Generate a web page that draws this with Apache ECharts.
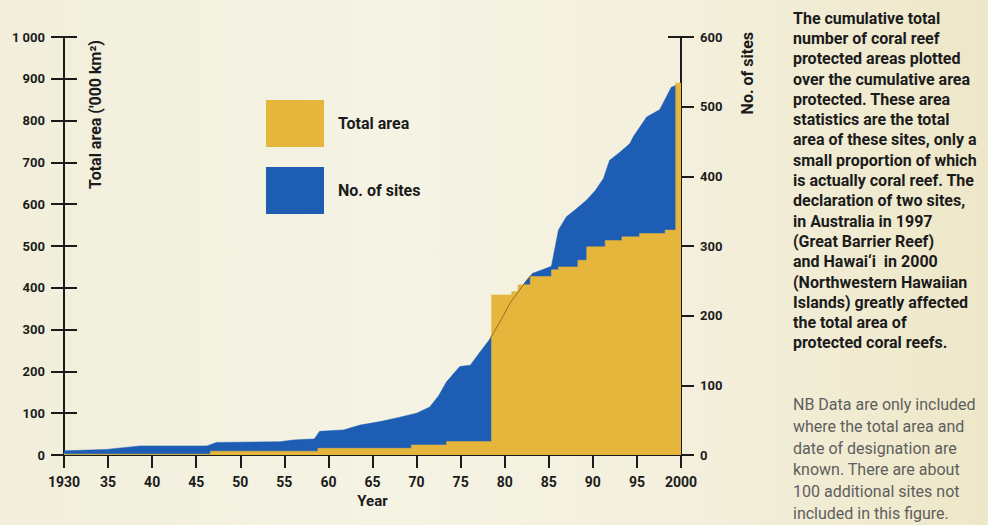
<!DOCTYPE html>
<html>
<head>
<meta charset="utf-8">
<script src="https://cdn.jsdelivr.net/npm/echarts@6/dist/echarts.min.js"></script>
<style>
html,body{margin:0;padding:0;}
body{background:linear-gradient(90deg,#f1eedb 0%,#f5f3e4 40%,#f3efdc 70%,#eee7c8 100%);}
#chart{width:988px;height:525px;}
</style>
</head>
<body>
<div id="chart"></div>
<script>
// ---- data ----
const areaYears  = [1930, 1946.6, 1958.8, 1969.4, 1973.4, 1978.5, 1980.8, 1981.5, 1982.9, 1985.3, 1986.1, 1988.3, 1989.3, 1991.4, 1993.3, 1995.3, 1998.2, 1999.4, 2000];
const areaValues = [2, 9, 16, 24, 32, 383, 391, 407, 427, 443, 450, 466, 498, 513, 522, 530, 538, 890, 890];

const siteYears  = [1930, 1934.8, 1938.6, 1946.2, 1947.3, 1954.5, 1956, 1957.5, 1958.4, 1959, 1961.7, 1963.6, 1965.9, 1968, 1970, 1971.5, 1972.5, 1973.4, 1974.9, 1976.1, 1977.2, 1978.3, 1979.5, 1980.6, 1981.7, 1982.5, 1983.2, 1984.5, 1985.3, 1986.1, 1987, 1988, 1989.3, 1990.3, 1991.2, 1991.9, 1993, 1994.2, 1994.6, 1996.1, 1997.2, 1997.6, 1998.9, 1999.9, 2000];
const siteValues = [6, 8, 13, 13, 18, 19, 21.5, 22.5, 23, 34, 36, 43, 48, 54, 60, 69, 85, 105, 127, 129, 148, 166, 192, 218, 237, 251, 261, 267, 271, 323, 342, 352, 366, 380, 397, 423, 434, 447, 457, 485, 493, 496, 528, 533, 534];

const xTickLabels = ['1930','35','40','45','50','55','60','65','70','75','80','85','90','95','2000'];
const areaTickLabels = ['0','100','200','300','400','500','600','700','800','900','1 000'];
const siteTickLabels = ['0','100','200','300','400','500','600'];

const seriesNames = ['Total area', 'No. of sites'];
const axisNames = ["Total area ('000 km²)", 'No. of sites', 'Year'];

const noteBold = ['The cumulative total','number of coral reef','protected areas plotted','over the cumulative area','protected. These area','statistics are the total','area of these sites, only a','small proportion of which','is actually coral reef. The','declaration of two sites,','in Australia in 1997','(Great Barrier Reef)','and Hawai\u2018i  in 2000','(Northwestern Hawaiian','Islands) greatly affected','the total area of','protected coral reefs.'];
const noteNB = ['NB Data are only included','where the total area and','date of designation are','known. There are about','100 additional sites not','included in this figure.'];

// ---- chart ----
const YELLOW = '#e5b63b';
const BLUE = '#1d5db4';
const INK = '#1b1b1b';
const FONT = 'Roboto, "DejaVu Sans", sans-serif';

const areaData = areaYears.map((y, i) => [y, areaValues[i]]);
const siteData = siteYears.map((y, i) => [y, siteValues[i]]);
const siteOutline = siteData.filter(d => d[0] >= 1978 && d[0] <= 1984);

const chart = echarts.init(document.getElementById('chart'), null, {renderer: 'svg'});

const axisLineStyle = {lineStyle: {color: INK, width: 2}};
const tickStyle = {lineStyle: {color: INK, width: 2}};
const labelStyle = {color: INK, fontFamily: FONT, fontWeight: 'bold', fontSize: 13};

chart.setOption({
  backgroundColor: 'transparent',
  animation: false,
  grid: {left: 64, right: 307, top: 37, bottom: 70},
  legend: {
    data: seriesNames,
    orient: 'vertical',
    left: 261, top: 95,
    itemWidth: 58, itemHeight: 47, itemGap: 20,
    icon: 'rect',
    selectedMode: false,
    textStyle: {color: INK, fontFamily: FONT, fontWeight: 'bold', fontSize: 16, padding: [0, 0, 0, 9]}
  },
  xAxis: {
    type: 'value', min: 1930, max: 2000, interval: 5,
    name: axisNames[2], nameLocation: 'middle', nameGap: 36,
    nameTextStyle: {color: INK, fontFamily: FONT, fontWeight: 'bold', fontSize: 15},
    axisLine: axisLineStyle,
    axisTick: Object.assign({length: 13}, tickStyle),
    axisLabel: Object.assign({}, labelStyle, {fontSize: 14, margin: 20,
      formatter: v => xTickLabels[Math.round((v - 1930) / 5)]}),
    splitLine: {show: false}
  },
  yAxis: [
    {
      type: 'value', min: 0, max: 1000, interval: 100, position: 'left',
      axisLine: Object.assign({show: true}, axisLineStyle),
      axisTick: Object.assign({show: true, length: 13}, tickStyle),
      axisLabel: Object.assign({}, labelStyle, {margin: 19,
        formatter: v => areaTickLabels[Math.round(v / 100)]}),
      splitLine: {show: false}
    },
    {
      type: 'value', min: 0, max: 600, interval: 100, position: 'right',
      axisLine: Object.assign({show: true}, axisLineStyle),
      axisTick: Object.assign({show: true, length: 13}, tickStyle),
      axisLabel: Object.assign({}, labelStyle, {margin: 19,
        formatter: v => siteTickLabels[Math.round(v / 100)]}),
      splitLine: {show: false}
    },
    {
      type: 'value', min: 0, max: 1000, interval: 100, position: 'left',
      axisLine: {show: false},
      axisTick: Object.assign({show: true, inside: true, length: 13}, tickStyle),
      axisLabel: {show: false}, splitLine: {show: false}
    },
    {
      type: 'value', min: 0, max: 600, interval: 100, position: 'right',
      axisLine: {show: false},
      axisTick: Object.assign({show: true, inside: true, length: 13}, tickStyle),
      axisLabel: {show: false}, splitLine: {show: false}
    }
  ],
  series: [
    {
      name: seriesNames[1], type: 'line', yAxisIndex: 1, data: siteData,
      showSymbol: false, symbol: 'none', z: 1,
      color: BLUE,
      lineStyle: {width: 0.5, color: BLUE},
      areaStyle: {color: BLUE, opacity: 1}
    },
    {
      name: seriesNames[0], type: 'line', yAxisIndex: 0, data: areaData,
      step: 'end', showSymbol: false, symbol: 'none', z: 2,
      color: YELLOW,
      lineStyle: {width: 0.5, color: YELLOW},
      areaStyle: {color: YELLOW, opacity: 1}
    },
    {
      name: 'outline', type: 'line', yAxisIndex: 1, data: siteOutline,
      showSymbol: false, symbol: 'none', z: 3, silent: true,
      lineStyle: {width: 1, color: '#7a5f1e', opacity: 0.8}
    }
  ],
  graphic: [
    {type: 'text', x: 95, y: 40, rotation: Math.PI / 2,
     style: {text: axisNames[0], align: 'right', verticalAlign: 'middle', fill: INK,
             font: 'bold 16px ' + FONT}},
    {type: 'text', x: 747, y: 32, rotation: Math.PI / 2,
     style: {text: axisNames[1], align: 'right', verticalAlign: 'middle', fill: INK,
             font: 'bold 16px ' + FONT}},
    {type: 'text', x: 793, y: 8,
     style: {text: noteBold.join('\n'), fill: INK, font: 'bold 16px ' + FONT, lineHeight: 20.3}},
    {type: 'text', x: 793, y: 394,
     style: {text: noteNB.join('\n'), fill: '#5e5e5e', font: '16px ' + FONT, lineHeight: 21.7}}
  ]
});
</script>
</body>
</html>
